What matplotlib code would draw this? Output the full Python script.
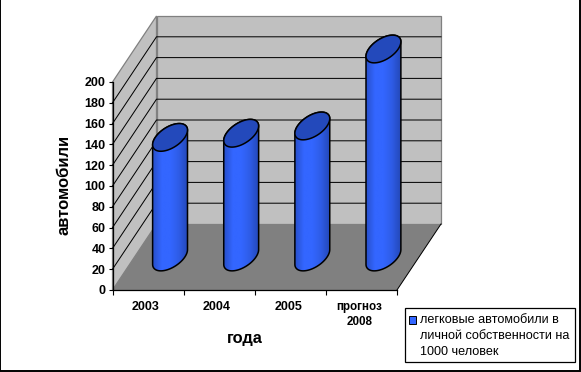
import matplotlib
matplotlib.use('Agg')
import matplotlib.pyplot as plt
from matplotlib.colors import LinearSegmentedColormap
from matplotlib.patches import Polygon, Rectangle
import numpy as np

plt.rcParams['font.family'] = ['Liberation Sans', 'DejaVu Sans']

years = ['2003', '2004', '2005', 'прогноз\n2008']
values = [115, 119, 126, 200]
yticks = list(range(0, 201, 20))
legend_lines = ['легковые автомобили в', 'личной собственности на', '1000 человек']

W, H = 581, 372
# front plane of the 3d box, in pixels
left, right, top, bottom = 112.5, 397, 82, 290

fig = plt.figure(figsize=(W / 100, H / 100), dpi=100)
ax = fig.add_axes([left / W, 1 - bottom / H, (right - left) / W, (bottom - top) / H])
ax.set_xlim(0, 4)
ax.set_ylim(0, 200)
ax.patch.set_visible(False)

# depth of the box in data units
dx = 44 / ((right - left) / 4)
dy = 66 / ((bottom - top) / 200)

# side wall, back wall, floor
ax.add_patch(Polygon([(0, 0), (0, 200), (dx, 200 + dy), (dx, dy)], fc='#c0c0c0', ec='#808080', lw=0.9, clip_on=False, zorder=1))
ax.add_patch(Polygon([(dx, dy), (dx, 200 + dy), (4 + dx, 200 + dy), (4 + dx, dy)], fc='#c0c0c0', ec='#808080', lw=0.9, clip_on=False, zorder=1))
ax.add_patch(Polygon([(0, 0), (dx, dy), (4 + dx, dy), (4, 0)], fc='#808080', ec='none', clip_on=False, zorder=1.5))

# grid lines on the walls
for v in yticks[1:-1]:
    ax.plot([0, dx, 4 + dx], [v, v + dy, v + dy], color='black', lw=0.72, clip_on=False, zorder=2, solid_joinstyle='miter')
ax.plot([4, 4 + dx], [0, dy], color='black', lw=0.72, clip_on=False, zorder=2)

# cylinders
cmap = LinearSegmentedColormap.from_list('cyl', ['#2850cc', '#3366ff', '#3366ff', '#2e5ce6', '#2448b8'])
grad = np.linspace(0, 1, 64).reshape(1, -1)
u = 0.208       # half width along categories
d = 0.21        # half width along depth
t0 = np.arctan2(d * dx, u)
half = np.hypot(u, d * dx)

for i, val in enumerate(values):
    cx = i + 0.5 + 0.5 * dx
    cy = 0.5 * dy

    def ellipse(t, base):
        return np.column_stack([cx + u * np.cos(t) + d * dx * np.sin(t), base + d * dy * np.sin(t)])

    lower = ellipse(np.linspace(t0 - np.pi, t0, 50), cy)
    upper = ellipse(np.linspace(t0, t0 + np.pi, 50), cy + val)
    body = Polygon(np.vstack([lower, upper]), fc='none', ec='black', lw=1.1, clip_on=False, zorder=4)
    ax.add_patch(body)
    img = ax.imshow(grad, cmap=cmap, aspect='auto', zorder=3,
                    extent=[cx - half, cx + half, -10, 260])
    img.set_clip_box(fig.bbox)
    img.set_clip_path(body)
    cap = Polygon(ellipse(np.linspace(0, 2 * np.pi, 100), cy + val), fc='#2349bb', ec='black', lw=1.1, clip_on=False, zorder=5)
    ax.add_patch(cap)

ax.set_xlim(0, 4)
ax.set_ylim(0, 200)

# axes
for s in ['top', 'right']:
    ax.spines[s].set_visible(False)
for s in ['left', 'bottom']:
    ax.spines[s].set_linewidth(0.9)
    ax.spines[s].set_zorder(6)
ax.set_yticks(yticks)
ax.set_yticklabels([str(v) for v in yticks], fontsize=9, fontweight='bold')
ax.set_xticks(range(5))
ax.set_xticklabels([])
ax.set_xticks([i + 0.47 for i in range(4)], minor=True)
ax.set_xticklabels(years, minor=True, fontsize=9, fontweight='bold', linespacing=1.35, va='top')
ax.get_xticklabels(minor=True)[3].set_fontsize(8.4)
ax.tick_params(axis='x', which='major', length=3.6, width=0.8)
ax.tick_params(axis='x', which='minor', length=0, pad=8)
ax.tick_params(axis='y', length=3, width=0.8, pad=2)

fig.text(245 / W, 1 - 338 / H, 'года', fontsize=11.8, fontweight='bold', ha='center', va='center')
fig.text(64 / W, 1 - 185 / H, 'автомобили', fontsize=12, fontweight='bold', rotation=90, ha='center', va='center')

# legend box
fig.add_artist(Rectangle((405 / W, 1 - 362 / H), 170 / W, 54 / H, transform=fig.transFigure, fc='white', ec='black', lw=0.9))
fig.add_artist(Rectangle((409 / W, 1 - 323.5 / H), 7.5 / W, 7.5 / H, transform=fig.transFigure, fc='#3366ff', ec='black', lw=0.7))
for line, y in zip(legend_lines, [320, 336, 352]):
    fig.text(420 / W, 1 - y / H, line, fontsize=9.1, ha='left', va='center')

# outer frame
fig.add_artist(Rectangle((0 / W, 1.5 / H), 579.5 / W, 371 / H, transform=fig.transFigure, fc='none', ec='black', lw=1.4))

fig.savefig('out.png', dpi=100)
